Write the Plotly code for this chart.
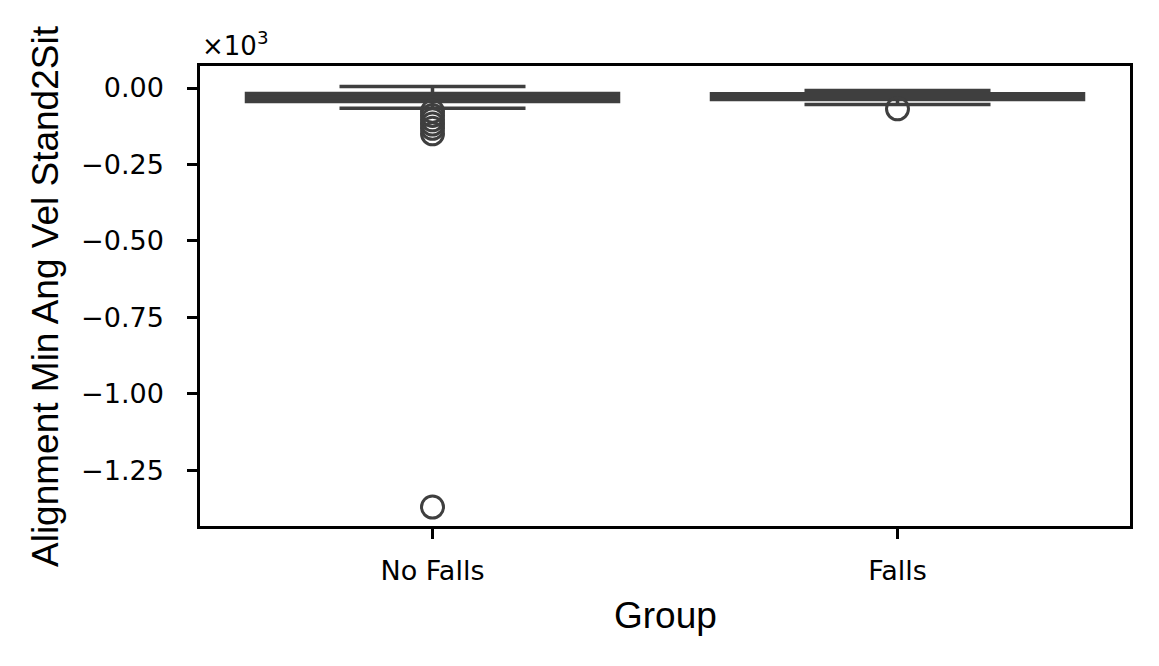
import plotly.graph_objects as go

# ---- data (values in raw units; axis shown in ×10^3) ----
groups = ["No Falls", "Falls"]
q1 = [-44, -38]
median = [-30, -28]
q3 = [-18, -19]
lower_whisker = [-66, -54]
upper_whisker = [5, -8]
outliers_nofalls = [-76, -90, -104, -118, -132, -150, -1371]
outliers_falls = [-68]

ytick_vals = [0, -250, -500, -750, -1000, -1250]
ytick_text = ["0.00", "\u22120.25", "\u22120.50", "\u22120.75", "\u22121.00", "\u22121.25"]

OFF = 8  # page body margin
W, H = 1159 - OFF, 666 - OFF
L, R, T, B = 200 - OFF, 29, 66 - OFF, 140
PW, PH = W - L - R, H - T - B
dark = "#3f3f3f"

fig = go.Figure()
fig.add_trace(go.Box(
    x=groups, q1=q1, median=median, q3=q3,
    lowerfence=lower_whisker, upperfence=upper_whisker,
    width=0.8, whiskerwidth=0.5,
    fillcolor=dark, line=dict(color=dark, width=3.5),
    boxpoints=False, showlegend=False, hoverinfo="skip",
))
fig.add_trace(go.Scatter(
    x=[groups[0]] * len(outliers_nofalls), y=outliers_nofalls,
    mode="markers",
    marker=dict(symbol="circle-open", size=22, color=dark, line=dict(width=3, color=dark)),
    showlegend=False,
))
fig.add_trace(go.Scatter(
    x=[groups[1]] * len(outliers_falls), y=outliers_falls,
    mode="markers",
    marker=dict(symbol="circle-open", size=22, color=dark, line=dict(width=3, color=dark)),
    showlegend=False,
))

tick_font = dict(family="DejaVu Sans", size=27, color="black")
fig.update_layout(
    width=W, height=H,
    margin=dict(l=L, r=R, t=T, b=B),
    paper_bgcolor="white", plot_bgcolor="white",
    xaxis=dict(
        type="category", range=[-0.5, 1.5],
        showline=True, linecolor="black", linewidth=2.5, mirror=True,
        ticks="outside", ticklen=10, tickwidth=2.5, tickcolor="black",
        tickfont=tick_font, showgrid=False, zeroline=False,
        ticklabelstandoff=9,
    ),
    yaxis=dict(
        range=[-1433, 72],
        tickvals=ytick_vals, ticktext=ytick_text,
        showline=True, linecolor="black", linewidth=2.5, mirror=True,
        ticks="outside", ticklen=10, tickwidth=2.5, tickcolor="black",
        tickfont=tick_font, showgrid=False, zeroline=False,
        ticklabelstandoff=18,
    ),
    annotations=[
        dict(text="Group", xref="paper", yref="paper",
             x=0.5, y=-(615 - 526) / PH,
             xanchor="center", yanchor="middle", showarrow=False,
             font=dict(family="Liberation Sans", size=37, color="black")),
        dict(text="Alignment Min Ang Vel Stand2Sit", xref="paper", yref="paper",
             x=-(200 - 45) / PW, y=0.5, textangle=-90,
             xanchor="center", yanchor="middle", showarrow=False,
             font=dict(family="Liberation Sans", size=37, color="black")),
        dict(text="\u00d710<sup>3</sup>", xref="paper", yref="paper",
             x=0, y=1 + (66 - 44) / PH,
             xanchor="left", yanchor="middle", showarrow=False,
             font=dict(family="DejaVu Sans", size=26, color="black")),
    ],
)

fig.write_html("out.html")
